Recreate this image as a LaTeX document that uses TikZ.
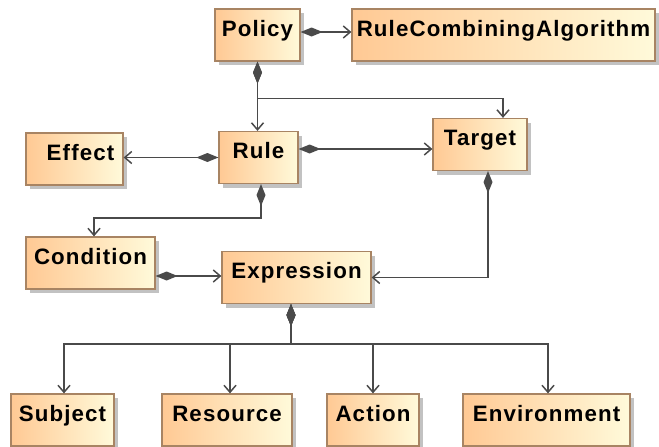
\documentclass[tikz,border=0pt]{standalone}
\usepackage{fontspec}
\setmainfont{Liberation Sans}[LetterSpace=5]
\usetikzlibrary{arrows.meta,shadows,calc}

\definecolor{boxedge}{HTML}{A88463}
\definecolor{boxleft}{HTML}{FFC994}
\definecolor{boxright}{HTML}{FFFADA}
\definecolor{wire}{HTML}{4A4A4A}

\begin{document}
\begin{tikzpicture}[x=1pt,y=-1pt,
  cls/.style={draw=boxedge, line width=1.2pt, inner sep=0pt,
    minimum height=52pt, text height=27pt, text depth=25pt,
    left color=boxleft, right color=boxright,
    drop shadow={shadow xshift=4pt, shadow yshift=-4pt, fill=black!40, opacity=0.6},
    font=\fontsize{22.3pt}{26pt}\selectfont\bfseries, text=black},
  comp/.style={draw=wire, line width=1.5pt,
    {Diamond[length=22pt,width=9pt,fill=wire]}-{Straight Barb[length=7pt,width=12pt]}},
]
\useasboundingbox (0,0) rectangle (659,447);

% classes
\node[cls, minimum width=85pt]  (policy)      at (257.5,35)  {Policy};
\node[cls, minimum width=303pt] (rca)         at (503.5,35)  {RuleCombiningAlgorithm};
\node[cls, minimum width=97pt]  (effect)      at (74.5,159)  {\hspace*{12pt}Effect};
\node[cls, minimum width=79pt]  (rule)        at (258.5,157.5) {Rule};
\node[cls, minimum width=94pt]  (target)      at (480,144.5) {Target};
\node[cls, minimum width=129pt] (condition)   at (90.5,263)  {Condition};
\node[cls, minimum width=149pt] (expression)  at (296.5,277.5) {Expression};
\node[cls, minimum width=103pt] (subject)     at (62.5,420)  {Subject};
\node[cls, minimum width=130pt] (resource)    at (227,420)   {Resource};
\node[cls, minimum width=92pt]  (action)      at (373,420)   {Action};
\node[cls, minimum width=167pt] (environment) at (546.5,420) {Environment};

% helper points for offset connector ends
\coordinate (p2c) at ($(policy.east)+(0,-3)$);
\coordinate (r2t) at ($(rule.east)+(0,-8.5)$);
\coordinate (c2e) at ($(condition.east)+(0,13)$);
\coordinate (ebot) at ($(expression.south)+(-5.5,0)$);
\coordinate (bus) at ($(ebot)+(0,40)$);

% compositions
\draw[comp] (p2c) -- (p2c -| rca.west);
\draw[comp] (policy.south) -- (policy.south |- rule.north);
\draw[comp] (policy.south) -- ++(0,37) -| ($(target.north)+(23,0)$);
\draw[comp] (rule.west) -- (rule.west -| effect.east);
\draw[comp] (r2t) -- (r2t -| target.west);
\draw[comp] ($(rule.south)+(2.5,0)$) -- ++(0,34) -| ($(condition.north)+(3.5,0)$);
\draw[comp] (c2e) -- (c2e -| expression.west);
\draw[comp] ($(target.south)+(8,0)$) |- (expression.east);
\draw[comp] (ebot) -- (bus) -| ($(subject.north)+(1.5,0)$);
\draw[comp] (ebot) -- (bus) -| ($(resource.north)+(3,0)$);
\draw[comp] (ebot) -- (bus) -| (action.north);
\draw[comp] (ebot) -- (bus) -| ($(environment.north)+(1.5,0)$);
\end{tikzpicture}
\end{document}
